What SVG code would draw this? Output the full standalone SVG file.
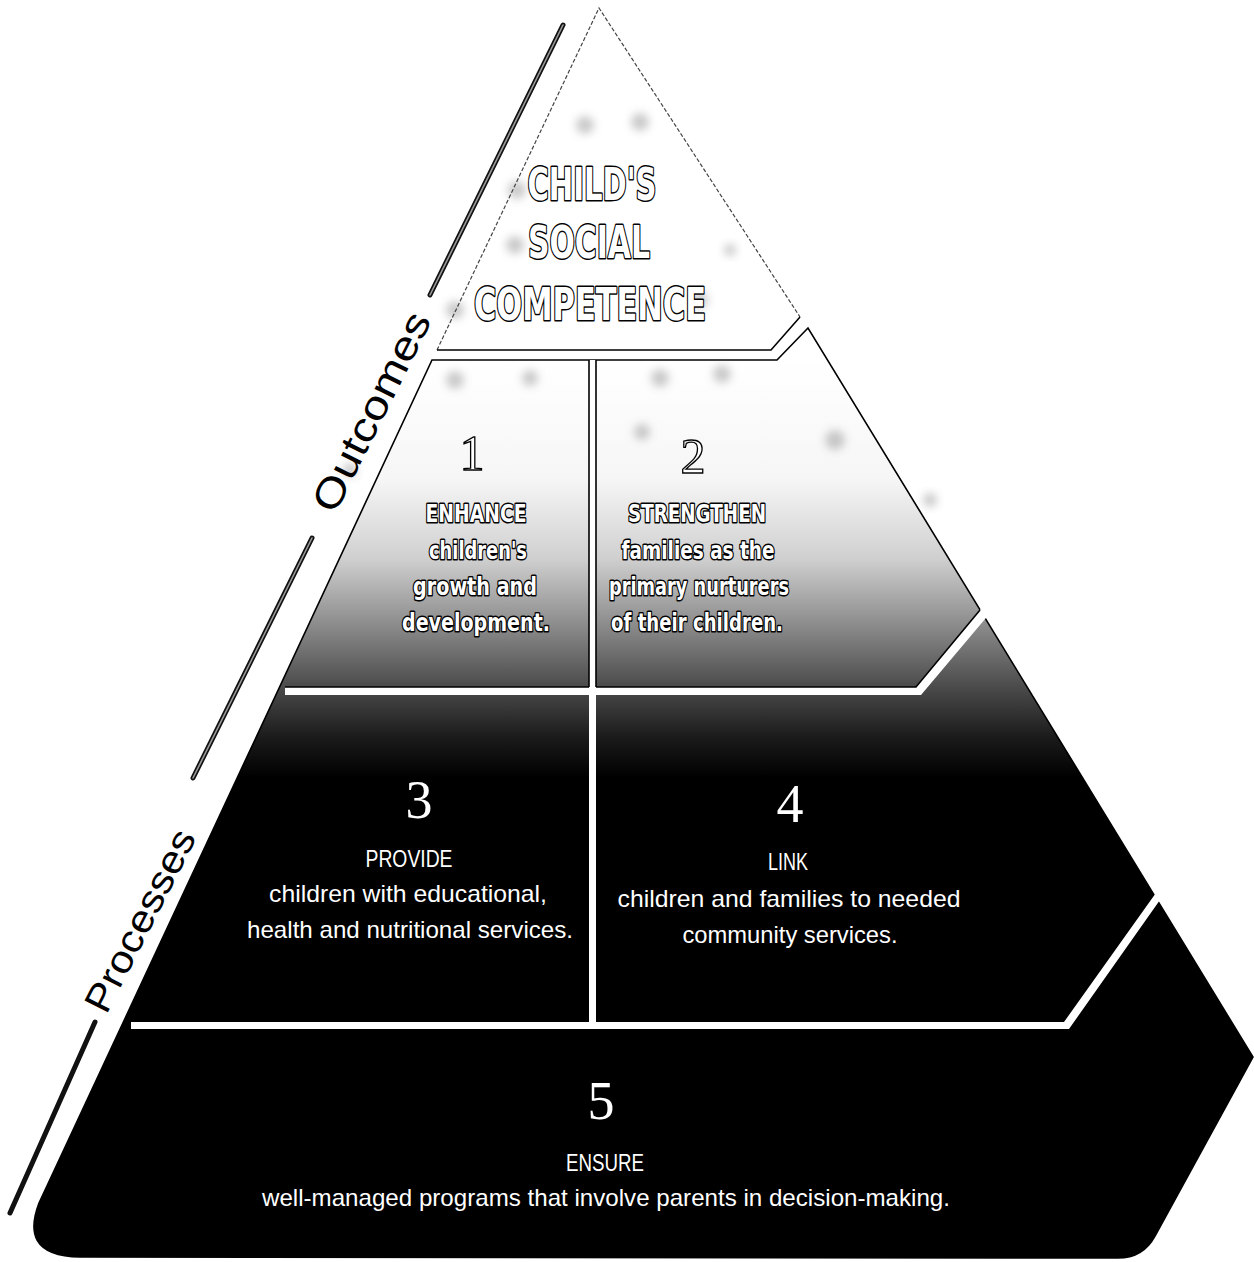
<svg xmlns="http://www.w3.org/2000/svg" width="1254" height="1262" viewBox="0 0 1254 1262">
  <defs>
    <linearGradient id="shade" gradientUnits="userSpaceOnUse" x1="0" y1="360" x2="0" y2="800">
      <stop offset="0" stop-color="#ffffff"/>
      <stop offset="0.27" stop-color="#f6f6f6"/>
      <stop offset="0.45" stop-color="#d0d0d0"/>
      <stop offset="0.61" stop-color="#888888"/>
      <stop offset="0.745" stop-color="#4a4a4a"/>
      <stop offset="0.86" stop-color="#1a1a1a"/>
      <stop offset="0.95" stop-color="#000000"/>
    </linearGradient>
    <filter id="blur" x="-50%" y="-50%" width="200%" height="200%">
      <feGaussianBlur stdDeviation="4"/>
    </filter>
    <style>
      .ol { font-family: "DejaVu Sans", "Liberation Sans", sans-serif; font-weight: bold; fill: #ffffff; stroke: #000000; stroke-width: 3; stroke-linejoin: round; paint-order: stroke; text-anchor: middle; }
      .olnum { font-family: "Liberation Serif", "Times New Roman", serif; fill: #ffffff; stroke: #000000; stroke-width: 1.3; text-anchor: middle; font-size: 50px; }
      .wnum { font-family: "Liberation Serif", "Times New Roman", serif; fill: #ffffff; text-anchor: middle; font-size: 54px; }
      .wt { font-family: "Liberation Sans", Arial, sans-serif; fill: #ffffff; text-anchor: middle; font-size: 24px; }
      .side { font-family: "Liberation Sans", Arial, sans-serif; fill: #000000; text-anchor: middle; }
      .edge { fill: none; stroke: #000000; stroke-width: 1.6; stroke-linejoin: miter; }
      .faint { fill: none; stroke: #444444; stroke-width: 1.2; stroke-dasharray: 4 2; }
      .bar { fill: none; stroke: #111111; stroke-width: 5; stroke-linecap: round; }
      .barin { fill: none; stroke: #9a9a9a; stroke-width: 1.6; stroke-linecap: round; }
      .spot { fill: #8a8a8a; opacity: 0.45; filter: url(#blur); }
    </style>
  </defs>
  <rect x="0" y="0" width="1254" height="1262" fill="#ffffff"/>

  <!-- Top section: child's social competence -->
  <g id="apex">
    <polygon points="599,8 800,317 771,350 437,350" fill="#ffffff"/>
    <g>
      <circle class="spot" cx="585" cy="125" r="9"/>
      <circle class="spot" cx="640" cy="122" r="9"/>
      <circle class="spot" cx="517" cy="190" r="9"/>
      <circle class="spot" cx="515" cy="245" r="9"/>
      <circle class="spot" cx="455" cy="310" r="9"/>
      <circle class="spot" cx="700" cy="300" r="8"/>
      <circle class="spot" cx="730" cy="250" r="6"/>
    </g>
    <polyline class="faint" points="437,350 599,8 800,317"/>
    <polyline class="edge" points="437,350 771,350 800,317"/>
    <text class="ol" x="592" y="200" font-size="44" textLength="129" lengthAdjust="spacingAndGlyphs">CHILD'S</text>
    <text class="ol" x="589" y="258" font-size="44" textLength="122" lengthAdjust="spacingAndGlyphs">SOCIAL</text>
    <text class="ol" x="590" y="320" font-size="44" textLength="232" lengthAdjust="spacingAndGlyphs">COMPETENCE</text>
  </g>

  <!-- Body of the pyramid (levels 1-5) -->
  <g id="body">
    <path d="M432,360 L777,360 L808,328 L1253,1057 L1155,1236 Q1143,1258 1118,1258 L80,1257 C32,1256 28,1232 39,1203 Z" fill="url(#shade)" stroke="#000000" stroke-width="1.6"/>
    <g>
      <circle class="spot" cx="455" cy="380" r="9"/>
      <circle class="spot" cx="530" cy="378" r="8"/>
      <circle class="spot" cx="660" cy="378" r="9"/>
      <circle class="spot" cx="722" cy="374" r="9"/>
      <circle class="spot" cx="835" cy="440" r="10"/>
      <circle class="spot" cx="642" cy="432" r="8"/>
      <circle class="spot" cx="350" cy="470" r="7"/>
      <circle class="spot" cx="930" cy="500" r="7"/>
    </g>
  </g>

  <!-- Dividers between levels -->
  <g id="dividers">
    <polygon points="285,687 916,687 990,598 996,606 921,695 285,695" fill="#ffffff"/>
    <polyline class="edge" points="285,687 916,687 980,610"/>
    <polygon points="131,1022 1064,1022 1163,883 1167,890 1069,1029 131,1029" fill="#ffffff"/>
    <rect x="589" y="360" width="7" height="662" fill="#ffffff"/>
    <line class="edge" x1="589" y1="360" x2="589" y2="687"/>
    <line class="edge" x1="596" y1="360" x2="596" y2="687"/>
  </g>

  <g id="level1">
    <text class="olnum" x="472" y="470">1</text>
    <text class="ol" x="476" y="522" font-size="25" textLength="101" lengthAdjust="spacingAndGlyphs">ENHANCE</text>
    <text class="ol" x="478" y="559" font-size="25" textLength="98" lengthAdjust="spacingAndGlyphs">children's</text>
    <text class="ol" x="475" y="595" font-size="25" textLength="124" lengthAdjust="spacingAndGlyphs">growth and</text>
    <text class="ol" x="476" y="631" font-size="25" textLength="148" lengthAdjust="spacingAndGlyphs">development.</text>
  </g>

  <g id="level2">
    <text class="olnum" x="693" y="473">2</text>
    <text class="ol" x="697" y="522" font-size="25" textLength="138" lengthAdjust="spacingAndGlyphs">STRENGTHEN</text>
    <text class="ol" x="698" y="559" font-size="25" textLength="153" lengthAdjust="spacingAndGlyphs">families as the</text>
    <text class="ol" x="699" y="595" font-size="25" textLength="180" lengthAdjust="spacingAndGlyphs">primary nurturers</text>
    <text class="ol" x="697" y="631" font-size="25" textLength="172" lengthAdjust="spacingAndGlyphs">of their children.</text>
  </g>

  <g id="level3">
    <text class="wnum" x="419" y="818">3</text>
    <text class="wt" x="409" y="867" textLength="87" lengthAdjust="spacingAndGlyphs">PROVIDE</text>
    <text class="wt" x="408" y="902" textLength="278" lengthAdjust="spacingAndGlyphs">children with educational,</text>
    <text class="wt" x="410" y="938" textLength="326" lengthAdjust="spacingAndGlyphs">health and nutritional services.</text>
  </g>

  <g id="level4">
    <text class="wnum" x="790" y="822">4</text>
    <text class="wt" x="788" y="870" textLength="40" lengthAdjust="spacingAndGlyphs">LINK</text>
    <text class="wt" x="789" y="907" textLength="343" lengthAdjust="spacingAndGlyphs">children and families to needed</text>
    <text class="wt" x="790" y="943" textLength="215" lengthAdjust="spacingAndGlyphs">community services.</text>
  </g>

  <g id="level5">
    <text class="wnum" x="601" y="1119">5</text>
    <text class="wt" x="605" y="1171" textLength="78" lengthAdjust="spacingAndGlyphs">ENSURE</text>
    <text class="wt" x="606" y="1206" textLength="688" lengthAdjust="spacingAndGlyphs">well-managed programs that involve parents in decision-making.</text>
  </g>

  <!-- Side labels -->
  <g id="outcomes-label">
    <line class="bar" x1="563" y1="25" x2="430" y2="295"/>
    <line class="barin" x1="563" y1="25" x2="430" y2="295"/>
    <line class="bar" x1="312" y1="538" x2="193" y2="778"/>
    <line class="barin" x1="312" y1="538" x2="193" y2="778"/>
    <text class="side" transform="translate(372,412) rotate(-63.5)" x="0" y="13" font-size="40" textLength="218" lengthAdjust="spacingAndGlyphs">Outcomes</text>
  </g>
  <g id="processes-label">
    <line class="bar" x1="95" y1="1022" x2="10" y2="1213" stroke-width="4"/>
    <text class="side" transform="translate(141,921) rotate(-63)" x="0" y="12" font-size="38" textLength="200" lengthAdjust="spacingAndGlyphs">Processes</text>
  </g>
</svg>
